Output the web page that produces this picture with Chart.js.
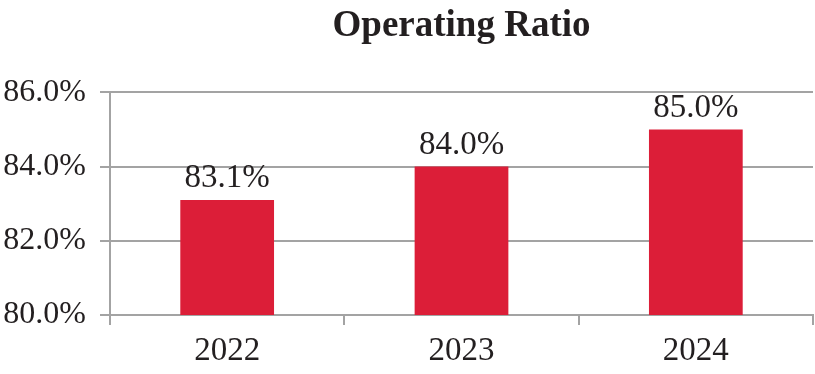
<!DOCTYPE html>
<html>
<head>
<meta charset="utf-8">
<script src="https://cdn.jsdelivr.net/npm/chart.js@4.4.1/dist/chart.umd.min.js"></script>
<style>
  html, body { margin: 0; padding: 0; background: #ffffff; }
  #wrap { width: 815px; height: 374px; position: relative; }
</style>
</head>
<body>
<div id="wrap"><canvas id="c" width="815" height="374"></canvas></div>
<script>
const categories = ['2022', '2023', '2024'];
const operatingRatio = [83.1, 84.0, 85.0];
const yTicks = [80, 82, 84, 86];
const titleText = 'Operating Ratio';

const serif = '"Liberation Serif", "Times New Roman", serif';
const textColor = '#231F20';
const gridColor = '#A3A3A3';
const barColor = '#DC1E38';

const valueLabels = {
  id: 'valueLabels',
  afterDatasetsDraw(chart) {
    const ctx = chart.ctx;
    const meta = chart.getDatasetMeta(0);
    ctx.save();
    ctx.font = '33px ' + serif;
    ctx.fillStyle = textColor;
    ctx.textAlign = 'center';
    ctx.textBaseline = 'bottom';
    meta.data.forEach((bar, i) => {
      const v = chart.data.datasets[0].data[i];
      ctx.fillText(v.toFixed(1) + '%', bar.x, bar.y - 5);
    });
    ctx.restore();
  }
};

new Chart(document.getElementById('c'), {
  type: 'bar',
  data: {
    labels: categories,
    datasets: [{
      data: operatingRatio,
      backgroundColor: barColor,
      borderWidth: 0,
      barPercentage: 0.4,
      categoryPercentage: 1.0
    }]
  },
  options: {
    responsive: false,
    animation: false,
    devicePixelRatio: 1,
    layout: { padding: { left: 0, right: 2, top: 4, bottom: 0 } },
    plugins: {
      legend: { display: false },
      tooltip: { enabled: false },
      title: {
        display: true,
        text: titleText,
        fullSize: false,
        color: textColor,
        font: { family: serif, size: 37, weight: 'bold' },
        padding: { top: 0, bottom: 44 }
      }
    },
    scales: {
      x: {
        afterFit(axis) { axis.height = 59; },
        grid: {
          offset: true,
          drawOnChartArea: false,
          drawTicks: true,
          tickLength: 10,
          color: gridColor,
          lineWidth: 2
        },
        border: { display: true, color: gridColor, width: 2 },
        ticks: {
          color: textColor,
          font: { family: serif, size: 33 },
          padding: 7
        }
      },
      y: {
        min: 80,
        max: 86,
        afterFit(axis) { axis.width = 110; },
        afterBuildTicks(axis) {
          axis.ticks = yTicks.map(v => ({ value: v }));
        },
        grid: {
          color: gridColor,
          lineWidth: 2,
          drawTicks: true,
          tickLength: 10
        },
        border: { display: true, color: gridColor, width: 2 },
        ticks: {
          color: textColor,
          font: { family: serif, size: 32 },
          padding: 14,
          callback: v => Number(v).toFixed(1) + '%'
        }
      }
    }
  },
  plugins: [valueLabels]
});
</script>
</body>
</html>
